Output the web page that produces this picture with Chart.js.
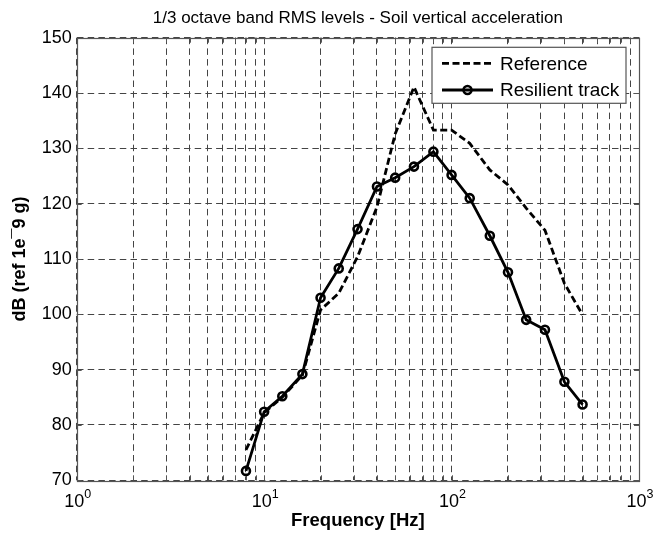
<!DOCTYPE html>
<html>
<head>
<meta charset="utf-8">
<script src="https://cdn.jsdelivr.net/npm/chart.js@4/dist/chart.umd.min.js"></script>
<style>
html,body{margin:0;padding:0;background:#fff;}
#wrap{width:655px;height:537px;position:relative;}
</style>
</head>
<body>
<div id="wrap"><canvas id="c" width="655" height="537"></canvas></div>
<script>
// ---- data ----
const frequencies = [8, 10, 12.5, 16, 20, 25, 31.5, 40, 50, 63, 80, 100, 125, 160, 200, 250, 315, 400, 500];
const referenceLevels = [75.5, 82.2, 85.0, 89.0, 100.8, 103.8, 110.4, 119.4, 132.6, 141.1, 133.3, 133.3, 130.9, 126.1, 123.4, 119.2, 115.2, 105.6, 99.9];
const resilientLevels = [71.7, 82.4, 85.2, 89.2, 103.0, 108.3, 115.4, 123.1, 124.7, 126.7, 129.4, 125.2, 121.0, 114.2, 107.6, 99.0, 97.2, 87.8, 83.7];
const seriesNames = ['Reference', 'Resilient track'];
const xTickValues = [1,2,3,4,5,6,7,8,9,10,20,30,40,50,60,70,80,90,100,200,300,400,500,600,700,800,900,1000];
const xDecadeValues = [1, 10, 100, 1000];
const xDecadeBase = '10';
const xDecadeExponents = ['0', '1', '2', '3'];
const yTickValues = [70, 80, 90, 100, 110, 120, 130, 140, 150];
const titleText = '1/3 octave band RMS levels - Soil vertical acceleration';
const xTitleText = 'Frequency [Hz]';
const yTitleText = 'dB (ref 1e¯9 g)';

const FONT = '"Liberation Sans", Arial, Helvetica, sans-serif';

const toPoints = (vals) => frequencies.map((f, i) => ({x: f, y: vals[i]}));

// box + inward tick marks (MATLAB style axes)
const boxPlugin = {
  id: 'boxPlugin',
  beforeDatasetsDraw(chart) {
    const {ctx, chartArea: a, scales} = chart;
    ctx.save();
    ctx.setLineDash([]);
    ctx.strokeStyle = '#555';
    ctx.lineWidth = 1;
    ctx.beginPath();
    const tl = 5;
    xTickValues.forEach(v => {
      const x = Math.round(scales.x.getPixelForValue(v)) + 0.5;
      ctx.moveTo(x, a.bottom); ctx.lineTo(x, a.bottom - tl);
      ctx.moveTo(x, a.top); ctx.lineTo(x, a.top + tl);
    });
    yTickValues.forEach(v => {
      const y = Math.round(scales.y.getPixelForValue(v)) + 0.5;
      ctx.moveTo(a.left, y); ctx.lineTo(a.left + tl, y);
      ctx.moveTo(a.right, y); ctx.lineTo(a.right - tl, y);
    });
    ctx.stroke();
    ctx.lineWidth = 1.2;
    ctx.strokeRect(Math.round(a.left) + 0.5, Math.round(a.top) + 0.5, Math.round(a.right - a.left), Math.round(a.bottom - a.top));
    ctx.restore();
  }
};

// decade tick labels with a raised exponent (10^n)
const decadeLabelPlugin = {
  id: 'decadeLabels',
  afterDraw(chart) {
    const {ctx, chartArea: a, scales} = chart;
    ctx.save();
    ctx.fillStyle = '#000';
    ctx.textBaseline = 'alphabetic';
    ctx.textAlign = 'left';
    const baseFont = '18px ' + FONT, expFont = '12.5px ' + FONT;
    xDecadeValues.forEach((v, i) => {
      const x = scales.x.getPixelForValue(v);
      ctx.font = baseFont;
      const wb = ctx.measureText(xDecadeBase).width;
      ctx.font = expFont;
      const we = ctx.measureText(xDecadeExponents[i]).width;
      const x0 = x - (wb + we) / 2 + 1;
      const yb = a.bottom + 27;
      ctx.font = baseFont;
      ctx.fillText(xDecadeBase, x0, yb);
      ctx.font = expFont;
      ctx.fillText(xDecadeExponents[i], x0 + wb, yb - 9.5);
    });
    ctx.restore();
  }
};

// boxed legend inside the plot, top right
const legendPlugin = {
  id: 'boxLegend',
  afterDraw(chart) {
    const {ctx, chartArea: a} = chart;
    const w = 194, h = 56;
    const bx = a.right - 13 - w, by = a.top + 9.6;
    ctx.save();
    ctx.fillStyle = '#fff';
    ctx.fillRect(bx, by, w, h);
    ctx.strokeStyle = '#555';
    ctx.lineWidth = 1.2;
    ctx.setLineDash([]);
    ctx.strokeRect(bx, by, w, h);
    chart.data.datasets.forEach((ds, i) => {
      const cy = by + 16 + i * 26.7;
      const x1 = bx + 10, x2 = bx + 61;
      ctx.save();
      ctx.strokeStyle = ds.borderColor;
      ctx.lineWidth = ds.borderWidth;
      ctx.setLineDash(ds.borderDash || []);
      ctx.beginPath(); ctx.moveTo(x1, cy); ctx.lineTo(x2, cy); ctx.stroke();
      ctx.setLineDash([]);
      if (ds.pointRadius > 0) {
        ctx.lineWidth = ds.pointBorderWidth;
        ctx.beginPath(); ctx.arc((x1 + x2) / 2, cy, ds.pointRadius, 0, Math.PI * 2); ctx.stroke();
      }
      ctx.restore();
      ctx.fillStyle = '#000';
      ctx.font = '19px ' + FONT;
      ctx.textBaseline = 'middle';
      ctx.textAlign = 'left';
      ctx.fillText(ds.label, bx + 68, cy + 1);
    });
    ctx.restore();
  }
};

new Chart(document.getElementById('c'), {
  type: 'line',
  data: {
    datasets: [
      {
        label: seriesNames[0],
        data: toPoints(referenceLevels),
        borderColor: '#000',
        borderWidth: 2.8,
        borderDash: [7, 3.5],
        pointRadius: 0,
        pointHoverRadius: 0,
        tension: 0,
        fill: false
      },
      {
        label: seriesNames[1],
        data: toPoints(resilientLevels),
        borderColor: '#000',
        borderWidth: 2.8,
        pointRadius: 4,
        pointBorderWidth: 2.6,
        pointBorderColor: '#000',
        pointBackgroundColor: 'rgba(0,0,0,0)',
        pointHoverRadius: 4,
        tension: 0,
        fill: false
      }
    ]
  },
  options: {
    responsive: false,
    animation: false,
    devicePixelRatio: 1,
    layout: {padding: {left: 0, right: 16, top: 0, bottom: 0}},
    plugins: {
      legend: {display: false},
      tooltip: {enabled: false},
      title: {
        display: true,
        fullSize: false,
        text: titleText,
        color: '#000',
        font: {family: FONT, size: 17, weight: 'normal'},
        padding: {top: 8, bottom: 9.3}
      }
    },
    scales: {
      x: {
        type: 'logarithmic',
        min: 1,
        max: 1000,
        afterBuildTicks: (scale) => { scale.ticks = xTickValues.map(v => ({value: v})); },
        afterFit: (scale) => { scale.height = 56.7; },
        ticks: {
          display: false,
          autoSkip: false,
          maxRotation: 0
        },
        grid: {color: '#444', lineWidth: 1, drawTicks: false},
        border: {display: false, dash: [6.5, 4.2]},
        title: {
          display: true,
          text: xTitleText,
          color: '#000',
          font: {family: FONT, size: 18.5, weight: 'bold'},
          padding: {top: 0, bottom: 5}
        }
      },
      y: {
        min: 70,
        max: 150,
        afterBuildTicks: (scale) => { scale.ticks = yTickValues.map(v => ({value: v})); },
        afterFit: (scale) => { scale.width = 76.7; },
        ticks: {
          padding: 5,
          color: '#000',
          font: {family: FONT, size: 18}
        },
        grid: {color: '#444', lineWidth: 1, drawTicks: false},
        border: {display: false, dash: [6.5, 4.2]},
        title: {
          display: true,
          text: yTitleText,
          color: '#000',
          font: {family: FONT, size: 18, weight: 'bold'},
          padding: {top: 9, bottom: 0}
        }
      }
    }
  },
  plugins: [boxPlugin, decadeLabelPlugin, legendPlugin]
});
</script>
</body>
</html>
